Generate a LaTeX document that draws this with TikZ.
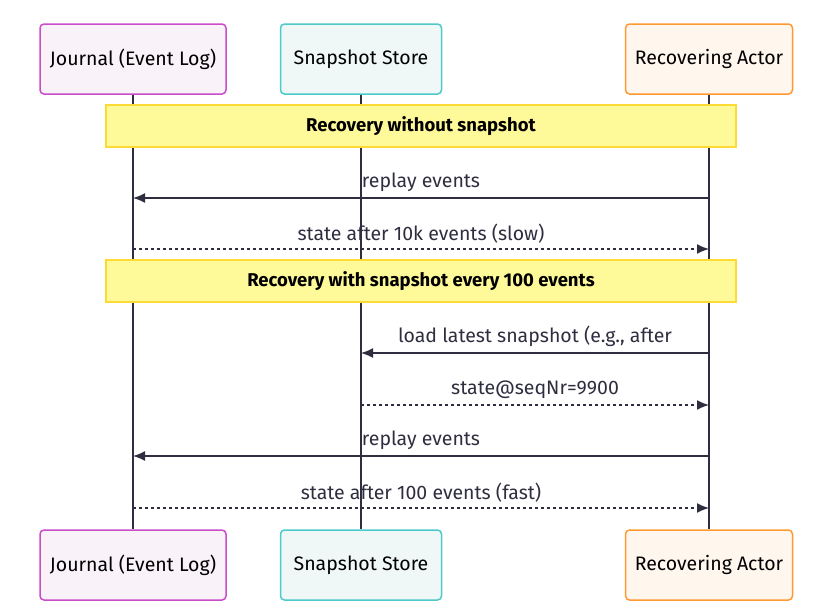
\documentclass[tikz,border=0pt]{standalone}
\usepackage{fontspec}
\setmainfont{Fira Sans}
\usetikzlibrary{arrows.meta}
\definecolor{ln}{HTML}{2E2E40}
\begin{document}
\begin{tikzpicture}[x=1pt,y=-1pt,font=\fontsize{19.5}{22}\selectfont,
  actor/.style={draw,line width=1.5pt,rounded corners=4pt,minimum height=70pt,inner sep=0},
  ja/.style={actor,draw=violet!60!magenta!70!white,fill=violet!5,minimum width=186pt},
  sa/.style={actor,draw=teal!60!cyan!70!white,fill=teal!6,minimum width=161pt},
  ra/.style={actor,draw=orange!80,fill=orange!7,minimum width=167pt},
  note/.style={draw=yellow!70!orange!80,line width=1.2pt,fill=yellow!40,minimum width=630pt,minimum height=42pt,font=\fontsize{18.5}{22}\selectfont\bfseries},
  life/.style={ln,line width=1.5pt},
  msg/.style={ln,line width=1.5pt,-{Latex[length=12pt,width=10pt]}},
  ret/.style={msg,dash pattern=on 3pt off 3pt},
  lab/.style={above=2pt,fill=none,text=ln}]
\useasboundingbox (0,0) rectangle (824,608);
\node[ja] (j1) at (133,59) {Journal (Event Log)};
\node[sa] (s1) at (361,59) {Snapshot Store};
\node[ra] (r1) at (709,59) {Recovering Actor};
\node[ja] (j2) at (133,565) {Journal (Event Log)};
\node[sa] (s2) at (361,565) {Snapshot Store};
\node[ra] (r2) at (709,565) {Recovering Actor};
\draw[life] (j1.south) -- (j2.north);
\draw[life] (s1.south) -- (s2.north);
\draw[life] (r1.south) -- (r2.north);
\node[note] (n1) at (421,126) {Recovery without snapshot};
\node[note] (n2) at (421,281) {Recovery with snapshot every 100 events};
\coordinate (ja) at (133,198); \coordinate (ra) at (709,198);
\coordinate (jb) at (133,249); \coordinate (rb) at (709,249);
\coordinate (sc) at (361,353); \coordinate (rc) at (709,353);
\coordinate (sd) at (361,405); \coordinate (rd) at (709,405);
\coordinate (je) at (133,456); \coordinate (re) at (709,456);
\coordinate (jf) at (133,508); \coordinate (rf) at (709,508);
\draw[msg] (ra) -- (ja) node[midway,lab] {replay events};
\draw[ret] (jb) -- (rb) node[midway,lab] {state after 10k events (slow)};
\draw[msg] (rc) -- (sc) node[midway,lab] {load latest snapshot (e.g., after};
\draw[ret] (sd) -- (rd) node[midway,lab] {state@seqNr=9900};
\draw[msg] (re) -- (je) node[midway,lab] {replay events};
\draw[ret] (jf) -- (rf) node[midway,lab] {state after 100 events (fast)};
\end{tikzpicture}
\end{document}
